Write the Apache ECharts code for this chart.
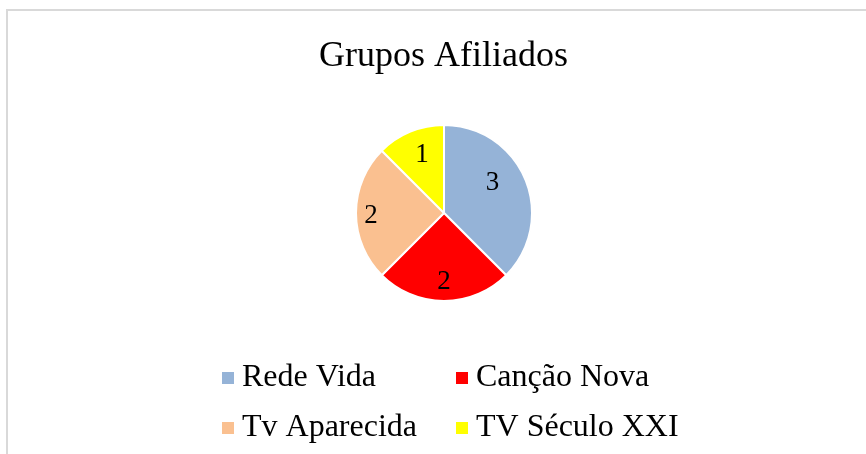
<!DOCTYPE html>
<html>
<head>
<meta charset="utf-8">
<script src="https://cdn.jsdelivr.net/npm/echarts@6/dist/echarts.min.js"></script>
<style>
html,body{margin:0;padding:0;background:#fff;}
#chart{width:866px;height:454px;}
</style>
</head>
<body>
<div id="chart"></div>
<script>
const titleText = 'Grupos Afiliados';
const categories = ['Rede Vida', 'Canção Nova', 'Tv Aparecida', 'TV Século XXI'];
const values = [3, 2, 2, 1];
const colors = ['#95B3D7', '#FF0000', '#FAC090', '#FFFF00'];
const labelOffsets = [[5, -12], [0, 22], [-26, 3], [-4, -15]];

const serif = '"Liberation Serif", "Times New Roman", serif';
const chart = echarts.init(document.getElementById('chart'), null, {renderer: 'canvas'});

const data = categories.map((name, i) => ({
  name: name,
  value: values[i],
  itemStyle: {color: colors[i]},
  label: {offset: labelOffsets[i]}
}));

const legendCommon = {
  orient: 'vertical',
  top: 356,
  itemWidth: 14,
  itemHeight: 14,
  itemGap: 16,
  icon: 'rect',
  selectedMode: false,
  textStyle: {fontFamily: serif, fontSize: 32, color: '#000', lineHeight: 34, padding: [0, 0, 0, 2]}
};

chart.setOption({
  animation: false,
  backgroundColor: '#fff',
  graphic: [{
    type: 'rect',
    shape: {x: 7, y: 10, width: 900, height: 500},
    style: {fill: 'none', stroke: '#D9D9D9', lineWidth: 2},
    silent: true
  }],
  title: {
    text: titleText,
    left: 314,
    top: 34,
    textStyle: {fontFamily: serif, fontSize: 36, fontWeight: 'normal', color: '#000'}
  },
  legend: [
    Object.assign({}, legendCommon, {left: 215, data: [categories[0], categories[2]]}),
    Object.assign({}, legendCommon, {left: 449, data: [categories[1], categories[3]]})
  ],
  series: [{
    type: 'pie',
    center: [444, 213],
    radius: 88,
    startAngle: 90,
    clockwise: true,
    avoidLabelOverlap: false,
    itemStyle: {borderColor: '#fff', borderWidth: 2},
    label: {
      show: true,
      position: 'inside',
      formatter: '{c}',
      fontFamily: serif,
      fontSize: 27,
      color: '#000'
    },
    labelLine: {show: false},
    emphasis: {disabled: true},
    data: data
  }]
});
</script>
</body>
</html>
